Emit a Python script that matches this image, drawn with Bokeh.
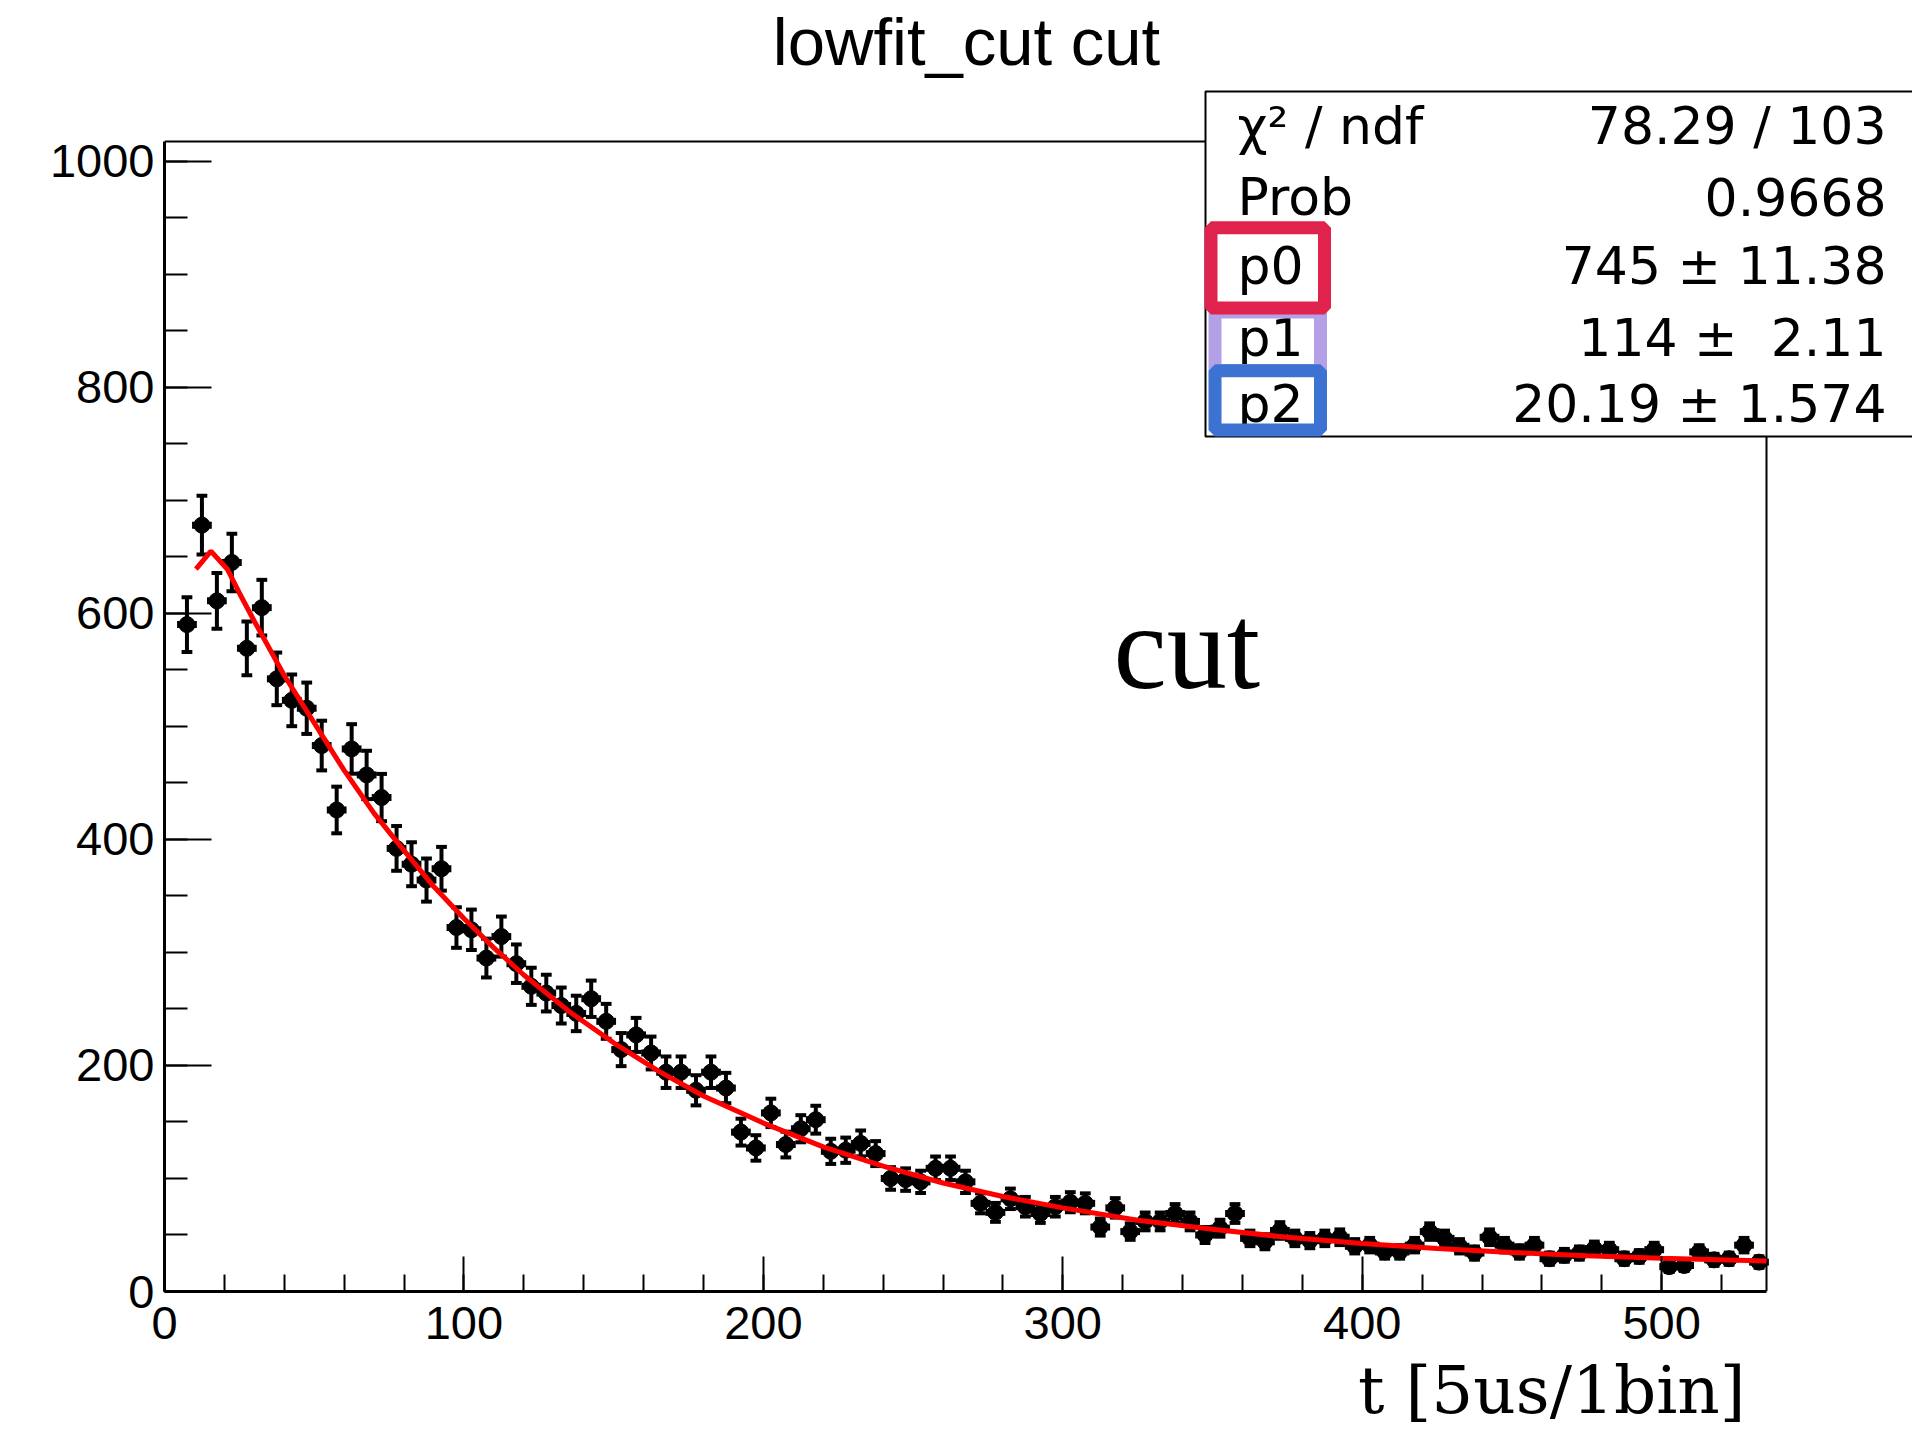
import numpy as np
from bokeh.plotting import figure
from bokeh.models import (Range1d, SingleIntervalTicker, BoxAnnotation,
                          Label, ColumnDataSource, Title)
from bokeh.embed import file_html
from bokeh.resources import INLINE

# ---------------- data ----------------
title_text = "lowfit_cut cut"
x_title = "t [5us/1bin]"
bin_width = 5
first_center = 7.5
counts = [590, 678, 611, 645, 569, 605, 542, 523, 516, 483,
          426, 480, 457, 437, 392, 378, 364, 374, 322, 320,
          295, 314, 290, 270, 264, 253, 246, 259, 239, 214,
          227, 211, 194, 194, 178, 194, 180, 141, 127, 158,
          130, 144, 152, 124, 125, 131, 122, 100, 99, 97,
          109, 109, 97, 78, 70, 82, 75, 69, 75, 79,
          78, 57, 74, 53, 62, 62, 69, 62, 50, 56,
          69, 47, 44, 54, 47, 45, 47, 48, 40, 41,
          35, 35, 41, 53, 47, 40, 34, 48, 41, 35,
          41, 29, 32, 34, 38, 37, 29, 31, 37, 22,
          23, 35, 28, 29, 41, 26]
fit_x = [10.5, 15.5, 21, 25, 30, 40, 50, 60, 70, 80, 90, 100, 110, 120, 135, 150,
         165, 180, 200, 220, 240, 260, 280, 300, 325, 350, 375, 400, 425, 450,
         475, 500, 535]
fit_y = [639, 655, 639, 618, 593, 545, 503, 461, 423, 390, 358, 330, 304, 280, 248, 220,
         195, 173, 149, 128, 111, 96, 84, 74, 63, 55, 48, 42.5, 38, 34.6,
         31.7, 29.5, 27]
stat_names = ["χ² / ndf", "Prob", "p0", "p1", "p2"]
stat_values = ["78.29 / 103", "0.9668", "745 ± 11.38", "114 ± \u00a02.11", "20.19 ± 1.574"]
x_lo, x_hi = 0, 535          # histogram frame range
y_lo, y_hi = 0, 1017.4

# ---------------- geometry (screen px) ----------------
W, H = 1912, 1436
FL, FR, FT, FB = 164, 1766, 141, 1291      # histogram frame edges on screen
PX_X = (FR - FL) / (x_hi - x_lo)
PX_Y = (FB - FT) / (y_hi - y_lo)
view_x_hi = x_lo + (W - FL) / PX_X         # canvas frame spans to the page edge
view_y_hi = y_lo + FB / PX_Y               # and up to the page top


def dx(X):
    return x_lo + (X - FL) / PX_X


def dy(Y):
    return y_lo + (FB - Y) / PX_Y


p = figure(width=W, height=H, x_range=Range1d(x_lo, view_x_hi),
           y_range=Range1d(y_lo, view_y_hi),
           output_backend="svg", toolbar_location=None,
           min_border_left=FL, min_border_right=0, min_border_top=0,
           min_border_bottom=H - FB)
p.xgrid.visible = False
p.ygrid.visible = False
p.outline_line_color = None
p.background_fill_color = "white"
p.border_fill_color = "white"

xa = p.xaxis[0]
xa.ticker = SingleIntervalTicker(interval=100, num_minor_ticks=5)
xa.bounds = (x_lo, x_hi)
ya = p.yaxis[0]
ya.ticker = SingleIntervalTicker(interval=200, num_minor_ticks=4)
ya.bounds = (y_lo, y_hi)
for ax, mj, mn, so in ((xa, 35, 17, 15), (ya, 47, 23, 10)):
    ax.major_tick_in = mj
    ax.major_tick_out = 0
    ax.minor_tick_in = mn
    ax.minor_tick_out = 0
    ax.major_tick_line_width = 2
    ax.minor_tick_line_width = 2
    ax.axis_line_width = 3
    ax.major_tick_line_color = "black"
    ax.minor_tick_line_color = "black"
    ax.axis_line_color = "black"
    ax.major_label_text_font = "Liberation Sans"
    ax.major_label_text_font_size = "47px"
    ax.major_label_text_color = "black"
    ax.major_label_standoff = so

# x axis title, right-aligned under the axis
p.add_layout(Title(text=x_title, align="right", offset=(W - 5 - 1740),
                   vertical_align="bottom", standoff=16, text_font="DejaVu Serif",
                   text_font_size="66px", text_font_style="normal",
                   text_color="black"), "below")

# top and right edges of the histogram frame
p.segment(x0=[x_lo, x_hi], y0=[y_hi, y_lo], x1=[x_hi, x_hi], y1=[y_hi, y_hi],
          line_color="black", line_width=2)

# ---------------- data glyphs ----------------
y = np.array(counts, dtype=float)
x = first_center + bin_width * np.arange(len(y))
err = np.sqrt(y)
arm = 3.3
cap = 1.8
src = ColumnDataSource(dict(x=x, y=y, lo=y - err, hi=y + err,
                            xl=x - arm, xr=x + arm, cl=x - cap, cr=x + cap))
p.segment(x0="x", y0="lo", x1="x", y1="hi", source=src, line_width=4, line_color="black")
p.segment(x0="cl", y0="hi", x1="cr", y1="hi", source=src, line_width=4, line_color="black")
p.segment(x0="cl", y0="lo", x1="cr", y1="lo", source=src, line_width=4, line_color="black")
p.segment(x0="xl", y0="y", x1="xr", y1="y", source=src, line_width=7, line_color="black")
p.scatter(x="x", y="y", source=src, size=16, marker="circle", color="black")
p.line(fit_x, fit_y, line_color="red", line_width=5)

# ---------------- annotations ----------------
BASE_SHIFT = 0.36  # em; Bokeh's alphabetic baseline sits lower than the canvas one


def label(X, Y, text, font, size, align):
    p.add_layout(Label(x=dx(X), y=dy(Y - BASE_SHIFT * size), text=text,
                       text_align=align, text_baseline="alphabetic",
                       text_font=font, text_font_size=f"{size}px",
                       text_color="black"))


label(966, 65, title_text, "Liberation Sans", 67, "center")
label(1113, 690, "cut", "Liberation Serif", 120, "left")

# stats box
p.add_layout(BoxAnnotation(left=dx(1205), right=dx(1990), top=dy(91), bottom=dy(436),
                           fill_color="white", fill_alpha=1, line_color="black",
                           line_width=2, line_alpha=1))
row_base = [144, 215, 284, 356, 422]
for name, val, yb in zip(stat_names, stat_values, row_base):
    label(1237, yb, name, "DejaVu Sans", 52, "left")
    label(1886, yb, val, "DejaVu Sans", 52, "right")

# highlight frames around parameter names
for (l, r, t, b, c) in ((1214.5, 1320, 311.5, 370, "#B4A0E6"),
                        (1214.5, 1320, 370.3, 429.5, "#3C73D2"),
                        (1210.5, 1324, 227.3, 307.5, "#E0234C")):
    p.add_layout(BoxAnnotation(left=dx(l), right=dx(r), top=dy(t), bottom=dy(b),
                               fill_alpha=0, line_color=c, line_width=13, line_alpha=1))

open("out.html", "w").write(file_html(p, INLINE))
